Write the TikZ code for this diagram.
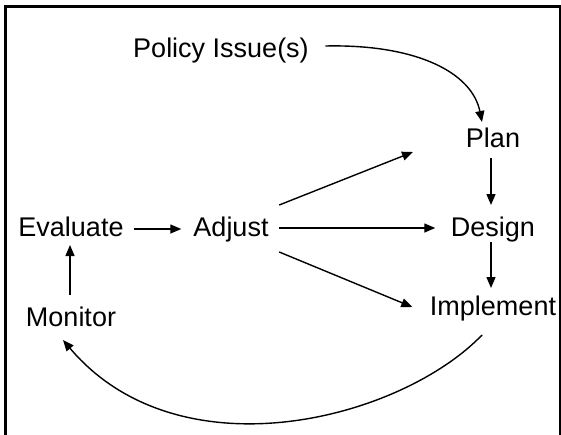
\documentclass[tikz,border=0pt]{standalone}
\usepackage{fontspec}
\setmainfont{Liberation Sans}
\usetikzlibrary{arrows.meta,calc}

\tikzset{
  label/.style={anchor=base, inner sep=0pt, font=\fontsize{27}{32}\selectfont},
  arr/.style={line width=1.4pt, -{Triangle[length=11pt,width=9pt]}},
  curve/.style={line width=1.4pt, -{Triangle[length=11pt,width=9pt]}},
  frameline/.style={line width=3pt},
}

\begin{document}
\begin{tikzpicture}[x=1pt,y=-1pt]
  \useasboundingbox (0,0) rectangle (561,434);

  % open frame: left, top and right sides
  \draw[frameline] (5,436) -- (5,6) -- (561,6);
  \draw[line width=1.5pt] (560,6) -- (560,436);

  % stage labels
  \node[label] (pol)    at (221,57)  {Policy Issue(s)};
  \node[label] (plan)   at (493,147) {Plan};
  \node[label] (design) at (493,236) {Design};
  \node[label] (impl)   at (493,315) {Implement};
  \node[label] (eval)   at (71,236)  {Evaluate};
  \node[label] (adj)    at (231,236) {Adjust};
  \node[label] (mon)    at (71,326)  {Monitor};

  % policy input feeding the planning stage
  \draw[curve] ($(pol.base east)+(16.5,-11)$)
      .. controls +(90,-2) and +(-10,-50) .. ($(plan.base)+(-11,-25)$);

  % main chain
  \draw[arr] ($(plan.base)+(-2,11)$) -- ($(design.base)+(-2,-31)$);
  \draw[arr] ($(design.base)+(-2,6)$) -- ($(impl.base)+(-2,-27)$);
  \draw[arr] ($(mon.base)+(-1,-31)$) -- ($(eval.base)+(-1,9)$);
  \draw[arr] ($(eval.base east)+(10,-7)$) -- ($(adj.base west)+(-12,-7)$);

  % adjustments fan out
  \draw[arr] ($(adj.base east)+(10.5,-31)$) -- ($(plan.base)+(-80,5)$);
  \draw[arr] ($(adj.base east)+(10.5,-8)$) -- ($(design.base west)+(-15.5,-8)$);
  \draw[arr] ($(adj.base east)+(10.5,16)$) -- ($(impl.base west)+(-17.5,-8)$);

  % feedback loop from implementation to monitoring
  \draw[curve] ($(impl.base)+(-11,20)$)
      .. controls +(-82,85) and +(116,137) .. ($(mon.base)+(-8,14)$);
\end{tikzpicture}
\end{document}
